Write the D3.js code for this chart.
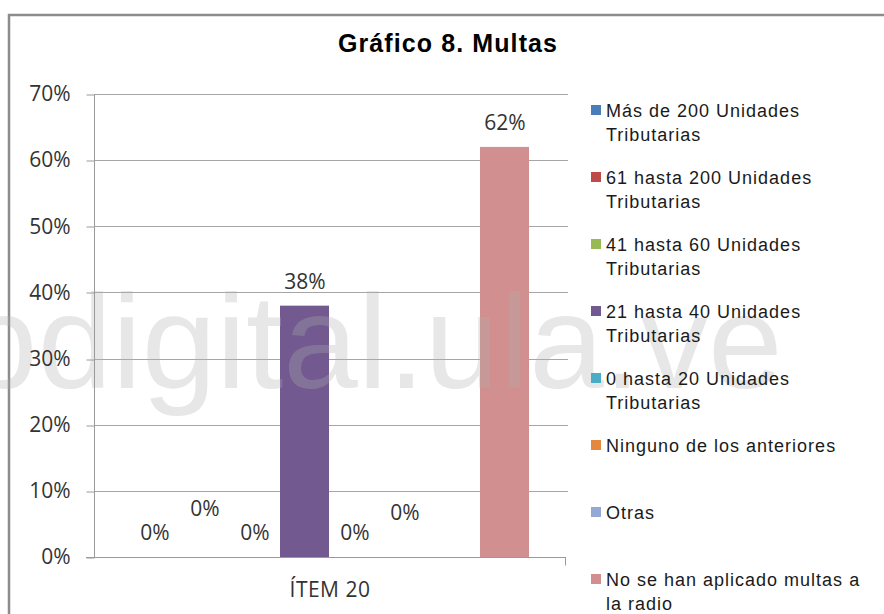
<!DOCTYPE html>
<html>
<head>
<meta charset="utf-8">
<script src="https://cdn.jsdelivr.net/npm/d3@7"></script>
<style>
  html, body { margin: 0; padding: 0; background: #fff; }
  svg { display: block; }
</style>
</head>
<body>
<svg id="chart" width="884" height="614"></svg>
<script>
// ---- data ----
const title = "Gráfico 8. Multas";
const categories = ["ÍTEM 20"];
const seriesNames = [
  "Más de 200 Unidades Tributarias",
  "61 hasta 200 Unidades Tributarias",
  "41 hasta 60 Unidades Tributarias",
  "21 hasta 40 Unidades Tributarias",
  "0 hasta 20 Unidades Tributarias",
  "Ninguno de los anteriores",
  "Otras",
  "No se han aplicado multas a la radio"
];
const seriesValues = [0, 0, 0, 0.38, 0, 0, 0, 0.62];
const yTicks = [0, 0.1, 0.2, 0.3, 0.4, 0.5, 0.6, 0.7];
const seriesColors = ["#4A7EBB", "#BE4B48", "#98B954", "#72598F", "#4BACC6", "#E3883E", "#94A9D6", "#D28F8F"];
const watermark = "bdigital.ula.ve";

// ---- drawing ----
const svg = d3.select("#chart");
const plot = { left: 94, right: 566, top: 94, bottom: 557 };

// outer chart border
svg.append("rect")
  .attr("x", 9).attr("y", 15).attr("width", 900).attr("height", 640)
  .attr("fill", "#fff").attr("stroke", "#8c8c8c").attr("stroke-width", 2.5);

const y = d3.scaleLinear().domain([0, 0.7]).range([plot.bottom, plot.top]);
const x0 = d3.scaleBand().domain(categories).range([plot.left, plot.right])
  .paddingInner(0).paddingOuter(0.09);
const x1 = d3.scaleBand().domain(seriesNames).range([0, x0.bandwidth()]).padding(0);

// gridlines
svg.append("g").selectAll("line").data(yTicks.slice(1)).join("line")
  .attr("x1", plot.left).attr("x2", plot.right + 2)
  .attr("y1", d => Math.round(y(d)) + 0.5).attr("y2", d => Math.round(y(d)) + 0.5)
  .attr("stroke", "#a6a6a6").attr("stroke-width", 1);

// bars
const rows = seriesNames.map((s, i) => ({ cat: categories[0], name: s, value: seriesValues[i], color: seriesColors[i], i }));
svg.append("g").selectAll("rect").data(rows).join("rect")
  .attr("x", d => x0(d.cat) + x1(d.name))
  .attr("width", x1.bandwidth() - 1)
  .attr("y", d => y(d.value))
  .attr("height", d => y(0) - y(d.value))
  .attr("fill", d => d.color);

// watermark (semi-transparent, over bars)
svg.append("text")
  .attr("x", -37).attr("y", 388)
  .attr("font-family", "'Liberation Sans', Arial, sans-serif")
  .attr("font-size", 134)
  .attr("fill", "#b0b0b0").attr("fill-opacity", 0.3)
  .text(watermark);

// y axis
const yAxis = d3.axisLeft(y).tickValues(yTicks).tickFormat(d3.format(".0%"))
  .tickSize(8).tickPadding(16);
const gy = svg.append("g").attr("transform", `translate(${plot.left + 0.5},0)`).call(yAxis);
gy.select(".domain").attr("stroke", "#9a9a9a").attr("d", `M0,${plot.top}V${plot.bottom}`);
gy.selectAll(".tick line").attr("stroke", "#9a9a9a")
  .attr("transform", d => `translate(0,${Math.round(y(d)) + 0.5 - y(d)})`);
gy.selectAll(".tick text")
  .attr("font-family", "'Open Sans', sans-serif").attr("font-size", 21)
  .attr("fill", "#333");

// x axis
const xAxis = d3.axisBottom(x0).tickSize(0).tickPadding(25);
const gx = svg.append("g").attr("transform", `translate(0,${plot.bottom + 0.5})`).call(xAxis);
gx.select(".domain").attr("stroke", "#9a9a9a").attr("d", `M${plot.left - 8},0H${plot.right}`);
gx.selectAll(".tick text")
  .attr("font-family", "'Open Sans', sans-serif").attr("font-size", 21)
  .attr("letter-spacing", 0.5)
  .attr("fill", "#333");
// category boundary tick at right end
gx.append("line").attr("x1", plot.right - 0.5).attr("x2", plot.right - 0.5)
  .attr("y1", 0).attr("y2", 8).attr("stroke", "#9a9a9a");

// data labels
const labelNudge = { 1: -24, 5: -20 };
const labelHidden = new Set([6]);
svg.append("g").selectAll("text").data(rows.filter(d => !labelHidden.has(d.i))).join("text")
  .attr("x", d => x0(d.cat) + x1(d.name) + x1.bandwidth() / 2)
  .attr("y", d => y(d.value) - 17 + (labelNudge[d.i] || 0))
  .attr("text-anchor", "middle")
  .attr("font-family", "'Open Sans', sans-serif").attr("font-size", 21)
  .attr("fill", "#333")
  .text(d => d3.format(".0%")(d.value));

// title
svg.append("text")
  .attr("x", 448).attr("y", 52)
  .attr("text-anchor", "middle")
  .attr("font-family", "'Liberation Sans', Arial, sans-serif")
  .attr("font-weight", "bold").attr("font-size", 25)
  .attr("letter-spacing", 1.1)
  .attr("fill", "#000")
  .text(title);

// legend
const legend = svg.append("g");
const legX = 591, legY0 = 110, legStep = 67, lineH = 23.5, maxW = 262;
seriesNames.forEach((name, i) => {
  const cy = legY0 + i * legStep;
  legend.append("rect")
    .attr("x", legX).attr("y", cy - 5).attr("width", 10).attr("height", 10)
    .attr("fill", seriesColors[i]);
  const t = legend.append("text")
    .attr("x", legX + 15).attr("y", cy + 7)
    .attr("font-family", "'Liberation Sans', Arial, sans-serif")
    .attr("font-size", 18).attr("letter-spacing", 1)
    .attr("fill", "#1a1a1a");
  const words = name.split(" ");
  let line = [];
  let tspan = t.append("tspan").attr("x", legX + 15).attr("dy", 0);
  words.forEach(w => {
    line.push(w);
    tspan.text(line.join(" "));
    if (tspan.node().getComputedTextLength() > maxW && line.length > 1) {
      line.pop();
      tspan.text(line.join(" "));
      line = [w];
      tspan = t.append("tspan").attr("x", legX + 15).attr("dy", lineH).text(w);
    }
  });
});
</script>
</body>
</html>
